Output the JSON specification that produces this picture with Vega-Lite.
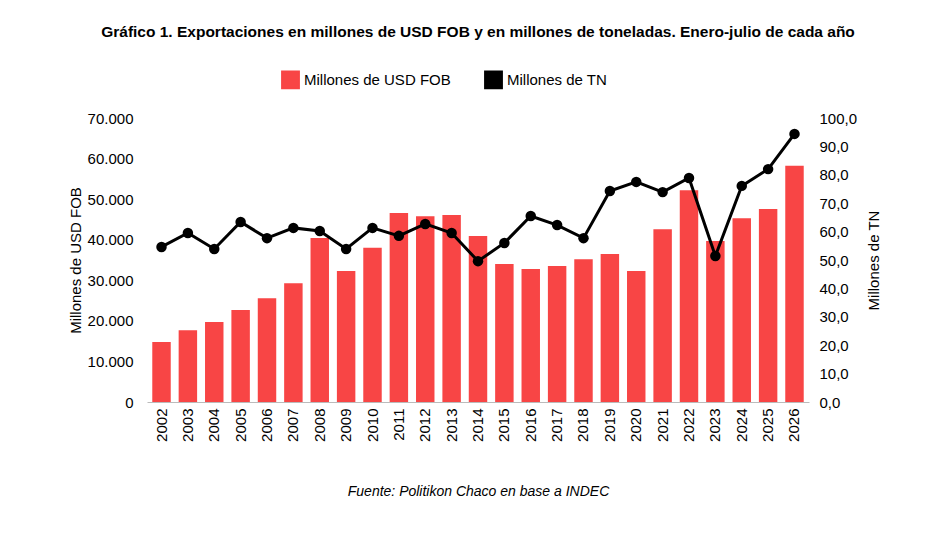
{
  "$schema": "https://vega.github.io/schema/vega-lite/v6.json",
  "width": 662,
  "height": 284,
  "padding": {"left": 68, "top": 24, "right": 10, "bottom": 5},
  "config": {"font": "Liberation Sans", "view": {"stroke": null}},
  "title": {"text": "Gráfico 1. Exportaciones en millones de USD FOB y en millones de toneladas. Enero-julio de cada año", "fontSize": 15.5, "fontWeight": "bold", "font": "Liberation Sans", "offset": 30},
  "data": {"values": [
    {"y": "2002", "usd": 14800, "tn": 54.6},
    {"y": "2003", "usd": 17700, "tn": 59.5},
    {"y": "2004", "usd": 19700, "tn": 53.9},
    {"y": "2005", "usd": 22700, "tn": 63.4},
    {"y": "2006", "usd": 25600, "tn": 57.7},
    {"y": "2007", "usd": 29300, "tn": 61.3},
    {"y": "2008", "usd": 40400, "tn": 60.2},
    {"y": "2009", "usd": 32300, "tn": 53.9},
    {"y": "2010", "usd": 38000, "tn": 61.3},
    {"y": "2011", "usd": 46600, "tn": 58.5},
    {"y": "2012", "usd": 45800, "tn": 62.7},
    {"y": "2013", "usd": 46100, "tn": 59.5},
    {"y": "2014", "usd": 40900, "tn": 49.6},
    {"y": "2015", "usd": 34000, "tn": 56.0},
    {"y": "2016", "usd": 32800, "tn": 65.5},
    {"y": "2017", "usd": 33500, "tn": 62.3},
    {"y": "2018", "usd": 35200, "tn": 57.7},
    {"y": "2019", "usd": 36500, "tn": 74.3},
    {"y": "2020", "usd": 32300, "tn": 77.5},
    {"y": "2021", "usd": 42600, "tn": 73.9},
    {"y": "2022", "usd": 52200, "tn": 78.9},
    {"y": "2023", "usd": 39700, "tn": 51.4},
    {"y": "2024", "usd": 45300, "tn": 76.1},
    {"y": "2025", "usd": 47600, "tn": 82.0},
    {"y": "2026", "usd": 58200, "tn": 94.4}
  ]},
  "encoding": {
    "x": {"field": "y", "type": "ordinal", "scale": {"paddingInner": 0.3, "paddingOuter": 0.2},
      "axis": {"labelAngle": -90, "labelFontSize": 15, "labelColor": "#000", "domainColor": "#bbb", "ticks": false, "labelPadding": 6,
        "title": "Fuente: Politikon Chaco en base a INDEC", "titleFontStyle": "italic", "titleFontWeight": "normal", "titleFontSize": 14, "titlePadding": 43, "titleColor": "#000"}}
  },
  "layer": [
    {
      "mark": {"type": "bar", "color": "#f84545"},
      "encoding": {
        "y": {"field": "usd", "type": "quantitative", "scale": {"domain": [0, 70000]},
          "axis": {"title": "Millones de USD FOB", "titleFontSize": 15, "titleFontWeight": "normal", "titleColor": "#000", "labelFontSize": 15, "labelColor": "#000", "tickCount": 7, "grid": false, "domain": false, "ticks": false, "labelPadding": 14,
            "labelExpr": "replace(format(datum.value, ','), ',', '.')"}},
        "color": {"datum": "Millones de USD FOB", "type": "nominal",
          "scale": {"domain": ["Millones de USD FOB", "Millones de TN"], "range": ["#f84545", "#000"]},
          "legend": {"orient": "none", "legendX": 134, "legendY": -48, "direction": "horizontal", "title": null, "labelFontSize": 15, "labelColor": "#000", "symbolType": "square", "symbolSize": 300, "columnPadding": 30}}
      }
    },
    {
      "mark": {"type": "line", "color": "#000", "strokeWidth": 3, "point": {"size": 110, "color": "#000", "filled": true}},
      "encoding": {
        "y": {"field": "tn", "type": "quantitative", "scale": {"domain": [0, 100]},
          "axis": {"orient": "right", "title": "Millones de TN", "titleAngle": 270, "titleBaseline": "top", "titleFontSize": 15, "titleFontWeight": "normal", "titleColor": "#000", "labelFontSize": 15, "labelColor": "#000", "tickCount": 10, "grid": false, "domain": false, "ticks": false, "labelPadding": 10, "titlePadding": 10,
            "labelExpr": "replace(format(datum.value, '.1f'), '.', ',')"}},
        "color": {"datum": "Millones de TN", "type": "nominal"}
      }
    }
  ],
  "resolve": {"scale": {"y": "independent"}}
}
